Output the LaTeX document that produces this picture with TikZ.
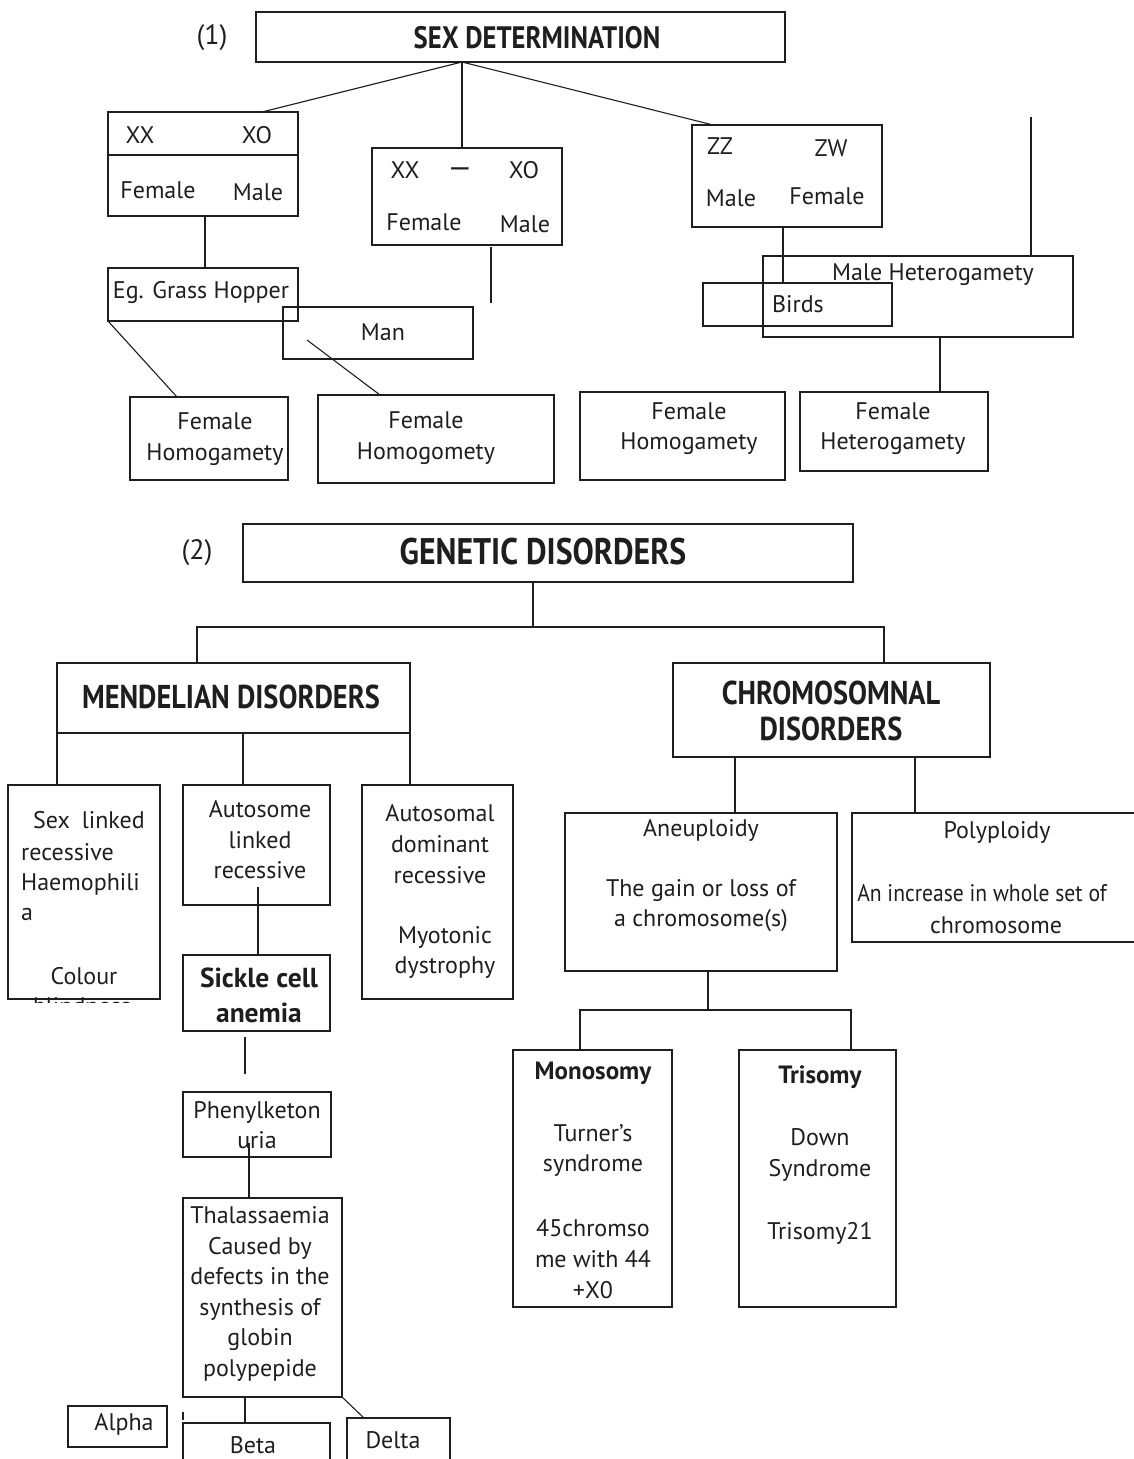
\documentclass[tikz,border=0pt]{standalone}
\usepackage{fontspec}
\setmainfont{PT Sans}
\newfontfamily\hdrfont{PT Sans}[FakeStretch=0.86]
\newfontfamily\narrowfont{PT Sans}[FakeStretch=0.9]
\definecolor{ink}{HTML}{1E1E1E}
\begin{document}
\begin{tikzpicture}[x=1pt,y=-1pt,
  box/.style={draw=ink,line width=1.2pt,inner sep=0pt,outer sep=0pt},
  heavy/.style={box,line width=2.2pt},
  mid/.style={box,line width=1.7pt},
  conn/.style={draw=ink,line width=1.1pt},
  txt/.style={text=ink,inner sep=0pt,align=center,font=\fontsize{24}{30.6}\selectfont},
  hdr/.style={text=ink,inner sep=0pt,align=center,font=\hdrfont\bfseries\fontsize{33}{36}\selectfont},
  sub/.style={text=ink,inner sep=0pt,align=center,font=\bfseries\fontsize{25}{34}\selectfont}]
\useasboundingbox (0,0) rectangle (1134,1459);

% ---------- (1) Sex determination ----------
\node[txt,font=\fontsize{28}{30}\selectfont] (n1) at (212,38) {(1)};
\node[box,minimum width=529,minimum height=50] (sd) at (520.5,37) {};
\node[hdr,font=\hdrfont\bfseries\fontsize{31}{36}\selectfont] (sdt) at (537,38) {SEX DETERMINATION};

\node[heavy,minimum width=190,minimum height=104] (xa) at (203,164) {};
\draw[ink,line width=2.2pt] ([yshift=-43pt]xa.north west) -- ([yshift=-43pt]xa.north east);
\node[txt] (xat1) at (140,135) {XX};
\node[txt] (xat2) at (257,135) {XO};
\node[txt] (xat3) at (158,190) {Female};
\node[txt] (xat4) at (258,192) {Male};

\node[heavy,minimum width=190,minimum height=53] (gh) at (203,294.5) {};
\node[txt] (ght) at (201,292) {Eg. Grass Hopper};

\node[box,minimum width=190,minimum height=97] (xb) at (467,196.5) {};
\node[txt] (xbt1) at (405,170) {XX};
\node[txt,font=\fontsize{30}{30}\selectfont] (xbt2) at (460,173) {\textemdash};
\node[txt] (xbt3) at (524,170) {XO};
\node[txt] (xbt4) at (424,222) {Female};
\node[txt] (xbt5) at (525,224) {Male};

\node[box,minimum width=190,minimum height=52] (man) at (378,333) {};
\node[txt] (mant) at (383,332) {Man};

\node[box,minimum width=158,minimum height=83] (fh1) at (209,438.5) {};
\node[txt] (fh1t) at (215,439) {Female\\Homogamety};
\node[box,minimum width=236,minimum height=88] (fh2) at (436,439) {};
\node[txt] (fh2t) at (426,438) {Female\\Homogomety};

\node[box,minimum width=190,minimum height=102] (zz) at (787,176) {};
\node[txt] (zzt1) at (720,146) {ZZ};
\node[txt] (zzt2) at (831,148) {ZW};
\node[txt] (zzt3) at (731,198) {Male};
\node[txt] (zzt4) at (827,196) {Female};

\node[box,minimum width=310,minimum height=81] (mh) at (918,296.5) {};
\node[txt] (mht) at (933,275) {Male Heterogamety};
\node[box,minimum width=189,minimum height=43] (bd) at (797.5,304.5) {};
\node[txt] (bdt) at (798,304) {Birds};

\node[box,minimum width=205,minimum height=88] (fh3) at (682.5,436) {};
\node[txt] (fh3t) at (689,428.5) {Female\\Homogamety};
\node[box,minimum width=188,minimum height=79] (fht) at (894,431.5) {};
\node[txt] (fhtt) at (893,428.5) {Female\\Heterogamety};

\coordinate (tailA) at (491,303);
\coordinate (tailB) at (1031,117);

\draw[conn] ([xshift=206pt]sd.south west) -- ([xshift=154pt]xa.north west);
\draw[conn] ([xshift=206pt]sd.south west) -- ([xshift=90pt]xb.north west);
\draw[conn] ([xshift=206pt]sd.south west) -- ([xshift=21pt]zz.north west);
\draw[ink,line width=2pt] ([xshift=97pt]xa.south west) -- ([xshift=97pt]gh.north west);
\draw[conn] ([xshift=119pt,yshift=-2pt]xb.south west) -- (tailA);
\draw[conn] (gh.south west) -- ([xshift=47pt]fh1.north west);
\draw[conn] ([xshift=24pt,yshift=-33pt]man.north west) -- ([xshift=62pt]fh2.north west);
\draw[conn] ([xshift=91pt]zz.south west) -- ([xshift=80pt]bd.north west);
\draw[conn] (tailB) -- ([xshift=268pt]mh.north west);
\draw[conn] ([xshift=177pt]mh.south west) -- ([xshift=140pt]fht.north west);

% ---------- (2) Genetic disorders ----------
\node[txt,font=\fontsize{28}{30}\selectfont] (n2) at (197,553) {(2)};
\node[heavy,minimum width=610,minimum height=58] (gd) at (548,553) {};
\node[hdr,font=\hdrfont\bfseries\fontsize{37}{40}\selectfont] (gdt) at (543,552) {GENETIC DISORDERS};

\node[box,minimum width=353,minimum height=70] (md) at (233.5,698) {};
\node[hdr] (mdt) at (231,697) {MENDELIAN DISORDERS};
\node[box,minimum width=317,minimum height=94] (cd) at (831.5,710) {};
\node[hdr] (cdt) at (831,711) {CHROMOSOMNAL\\DISORDERS};

\coordinate (gdj) at (533,627);
\draw[conn] ([xshift=-15pt]gd.south) -- (gdj);
\draw[conn] ([xshift=140pt]md.north west) |- (gdj) -| ([xshift=211pt]cd.north west);

% Mendelian branches
\node[box,minimum width=152,minimum height=214] (sl) at (84,892) {};
\node[box,minimum width=147,minimum height=120] (ar) at (256.5,845) {};
\node[box,minimum width=151,minimum height=214] (ad) at (437.5,892) {};
\draw[conn] (md.south west) -- ([xshift=49pt]sl.north west);
\draw[conn] ([xshift=186pt]md.south west) -- ([xshift=60pt]ar.north west);
\draw[conn] (md.south east) -- ([xshift=48pt]ad.north west);

\node[txt] (slt1) at (89,820) {Sex\hspace{12pt}linked};
\node[txt,anchor=west] (slt2) at (21,852) {recessive};
\node[txt,anchor=west] (slt3) at (21,884) {Haemophili};
\node[txt,anchor=west] (slt4) at (21,914) {a};
\node[txt] (slt5) at (84,976) {Colour};
\begin{scope}
  \clip (8,990) rectangle (160,1002.5);
  \node[txt,anchor=base] (slt6) at (82,1014) {blindness};
\end{scope}

\node[txt] (art) at (260,840) {Autosome\\linked\\recessive};
\node[txt] (adt1) at (440,844) {Autosomal\\dominant\\recessive};
\node[txt] (adt2) at (445,952.5) {Myotonic\\dystrophy};

\node[mid,minimum width=147,minimum height=76] (sc) at (256.5,993) {};
\node[sub,font=\bfseries\fontsize{27.5}{35}\selectfont] (sct) at (259,995) {Sickle cell\\anemia};
\draw[conn] ([xshift=75pt,yshift=18pt]ar.south west) -- ([xshift=75pt]sc.north west);

\coordinate (gapA) at (245,1037);
\coordinate (gapB) at (245,1074);
\draw[conn] (gapA) -- (gapB);

\node[box,minimum width=148,minimum height=65] (pk) at (257,1124.5) {};
\node[txt] (pkt) at (257,1125) {Phenylketon\\uria};
\node[box,minimum width=159,minimum height=199] (th) at (262.5,1297.5) {};
\node[txt] (tht) at (260,1294) {Thalassaemia\\Caused by\\defects in the\\synthesis of\\globin\\polypepide};
\draw[conn] ([xshift=66pt,yshift=14pt]pk.south west) -- ([xshift=66pt]th.north west);

\node[box,minimum width=99,minimum height=41] (al) at (117.5,1426.5) {};
\node[txt] (alt) at (124,1424) {Alpha};
\node[box,minimum width=147,minimum height=57] (be) at (256.5,1451.5) {};
\node[txt] (bet) at (253,1445) {Beta};
\node[box,minimum width=103,minimum height=62] (de) at (398.5,1449) {};
\node[txt] (det) at (393,1440) {Delta};
\draw[conn] ([xshift=62pt]th.south west) -- ([xshift=62pt]be.north west);
\draw[conn] (th.south east) -- ([xshift=17pt]de.north west);
\coordinate (tk1) at (183,1412);
\coordinate (tk2) at (183,1420);
\draw[conn] (tk1) -- (tk2);

% Chromosomal branches
\node[box,minimum width=272,minimum height=158] (an) at (701,892) {};
\node[box,minimum width=298,minimum height=129] (pp) at (1001,877.5) {};
\draw[conn] ([xshift=62pt]cd.south west) -- ([xshift=170pt]an.north west);
\draw[conn] ([xshift=242pt]cd.south west) -- ([xshift=63pt]pp.north west);
\node[txt] (ant1) at (701,830) {Aneuploidy};
\node[txt] (ant2) at (701,905.5) {The gain or loss of\\a chromosome(s)};
\node[txt] (ppt1) at (997,832) {Polyploidy};
\node[txt,font=\narrowfont\fontsize{24}{30.6}\selectfont] (ppt2) at (982,893) {An increase in whole set of};
\node[txt] (ppt3) at (996,925) {chromosome};

\node[box,minimum width=159,minimum height=257] (mo) at (592.5,1178.5) {};
\node[box,minimum width=157,minimum height=257] (tr) at (817.5,1178.5) {};
\coordinate (anj) at (708,1010);
\draw[conn] ([xshift=143pt]an.south west) -- (anj);
\draw[conn] ([xshift=67pt]mo.north west) |- (anj) -| ([xshift=112pt]tr.north west);

\node[sub] (mot1) at (593,1073) {Monosomy};
\node[txt] (mot2) at (593,1150.5) {Turner's\\syndrome};
\node[txt] (mot3) at (593,1259) {45chromso\\me with 44\\+X0};
\node[sub] (trt1) at (820,1077) {Trisomy};
\node[txt] (trt2) at (820,1155) {Down\\Syndrome};
\node[txt] (trt3) at (820,1233) {Trisomy21};
\end{tikzpicture}
\end{document}
